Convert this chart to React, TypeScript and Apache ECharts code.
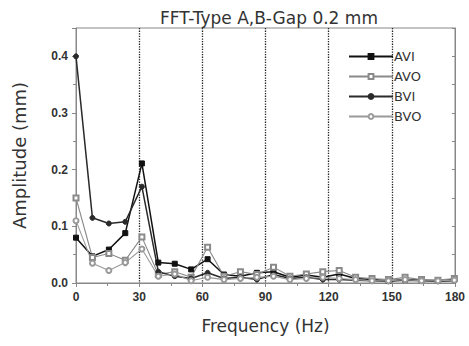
import React, { useEffect, useRef } from "react";
import * as echarts from "echarts";

const frequencies = [0, 7.8, 15.6, 23.4, 31.3, 39.1, 46.9, 54.7, 62.5, 70.3, 78.1, 85.9, 93.8, 101.6, 109.4, 117.2, 125.0, 132.8, 140.6, 148.4, 156.3, 164.1, 171.9, 179.7];
const AVI = [0.080, 0.047, 0.059, 0.088, 0.211, 0.036, 0.034, 0.024, 0.042, 0.015, 0.012, 0.018, 0.020, 0.010, 0.014, 0.010, 0.016, 0.008, 0.006, 0.004, 0.006, 0.005, 0.004, 0.006];
const AVO = [0.150, 0.045, 0.052, 0.040, 0.081, 0.015, 0.020, 0.010, 0.063, 0.012, 0.020, 0.015, 0.028, 0.012, 0.016, 0.020, 0.022, 0.010, 0.008, 0.006, 0.010, 0.006, 0.005, 0.008];
const BVI = [0.400, 0.115, 0.105, 0.108, 0.170, 0.020, 0.012, 0.008, 0.018, 0.008, 0.010, 0.006, 0.015, 0.008, 0.010, 0.006, 0.006, 0.005, 0.004, 0.003, 0.005, 0.004, 0.003, 0.004];
const BVO = [0.110, 0.035, 0.022, 0.036, 0.060, 0.012, 0.016, 0.004, 0.010, 0.006, 0.008, 0.010, 0.012, 0.006, 0.008, 0.010, 0.008, 0.006, 0.004, 0.004, 0.006, 0.004, 0.004, 0.005];
const seriesNames = ["AVI", "AVO", "BVI", "BVO"];
const title = "FFT-Type A,B-Gap 0.2 mm";
const xName = "Frequency (Hz)";
const yName = "Amplitude (mm)";

const pair = (ys: number[]) => frequencies.map((f, i) => [f, ys[i]]);

export default function App() {
  const ref = useRef<HTMLDivElement>(null);
  useEffect(() => {
    if (!ref.current) return;
    const chart = echarts.init(ref.current, null, { renderer: "svg" });
    const font = "Liberation Sans, Arial, sans-serif";
    const wide = "DejaVu Sans, sans-serif";
    const mk = (name: string, data: number[], color: string, symbol: string, width: number) => ({
      name,
      type: "line",
      data: pair(data),
      symbol,
      symbolSize: 5,
      showAllSymbol: true,
      lineStyle: { color, width },
      itemStyle: { color, borderColor: color, borderWidth: 1 },
    });
    chart.setOption({
      animation: false,
      backgroundColor: "#ffffff",
      textStyle: { fontFamily: font },
      title: {
        text: title,
        left: 264,
        textAlign: "center",
        top: 4,
        textStyle: { fontSize: 17, fontWeight: "normal", color: "#333", fontFamily: wide },
      },
      legend: {
        orient: "vertical",
        left: 343,
        top: 45,
        itemWidth: 44,
        itemHeight: 6,
        itemGap: 7,
        textStyle: { fontSize: 13, color: "#333", fontFamily: wide, padding: [0, 0, 0, -4] },
        data: seriesNames,
      },
      grid: {
        left: 76,
        right: 14,
        top: 28,
        bottom: 63,
        show: true,
        borderColor: "#888",
        borderWidth: 1,
      },
      xAxis: {
        type: "value",
        min: 0,
        max: 180,
        interval: 30,
        name: xName,
        nameLocation: "middle",
        nameGap: 34,
        nameTextStyle: { fontSize: 17, color: "#333", fontFamily: wide },
        axisLine: { lineStyle: { color: "#888" } },
        axisTick: { lineStyle: { color: "#888" }, length: 4 },
        minorTick: { show: true, splitNumber: 2, length: 3, lineStyle: { color: "#888" } },
        axisLabel: { fontSize: 12, fontWeight: "bold", color: "#333", margin: 8 },
        splitLine: {
          show: true,
          showMinLine: false,
          showMaxLine: false,
          lineStyle: { type: "dotted", color: "#222", width: 1.3 },
        },
      },
      yAxis: [
        {
          type: "value",
          min: 0,
          max: 0.45,
          interval: 0.1,
          name: yName,
          nameLocation: "middle",
          nameGap: 48,
          nameTextStyle: { fontSize: 18, color: "#333", fontFamily: wide },
          axisLine: { show: true, lineStyle: { color: "#888" } },
          axisTick: { show: true, lineStyle: { color: "#888" }, length: 4 },
          minorTick: { show: true, splitNumber: 2, length: 3, lineStyle: { color: "#888" } },
          axisLabel: {
            fontSize: 12,
            fontWeight: "bold",
            color: "#333",
            margin: 8,
            formatter: (v: number) => {
              const r = Math.round(v * 10) / 10;
              return Math.abs(r - v) < 1e-6 ? r.toFixed(1) : "";
            },
          },
          splitLine: { show: false },
        },
        {
          type: "value",
          min: 0,
          max: 0.45,
          interval: 0.05,
          position: "right",
          axisLine: { show: true, lineStyle: { color: "#888" } },
          axisTick: { show: true, inside: true, length: 3, lineStyle: { color: "#888" } },
          axisLabel: { show: false },
          splitLine: { show: false },
        },
      ],
      series: [
        mk("AVI", AVI, "#111111", "rect", 1.5),
        mk("AVO", AVO, "#8a8a8a", "emptyRect", 1.1),
        mk("BVI", BVI, "#2a2a2a", "circle", 1.5),
        mk("BVO", BVO, "#9a9a9a", "emptyCircle", 1.1),
      ],
    });
    return () => chart.dispose();
  }, []);
  return <div ref={ref} style={{ width: 469, height: 346, position: "absolute", left: 0, top: 0 }} />;
}
